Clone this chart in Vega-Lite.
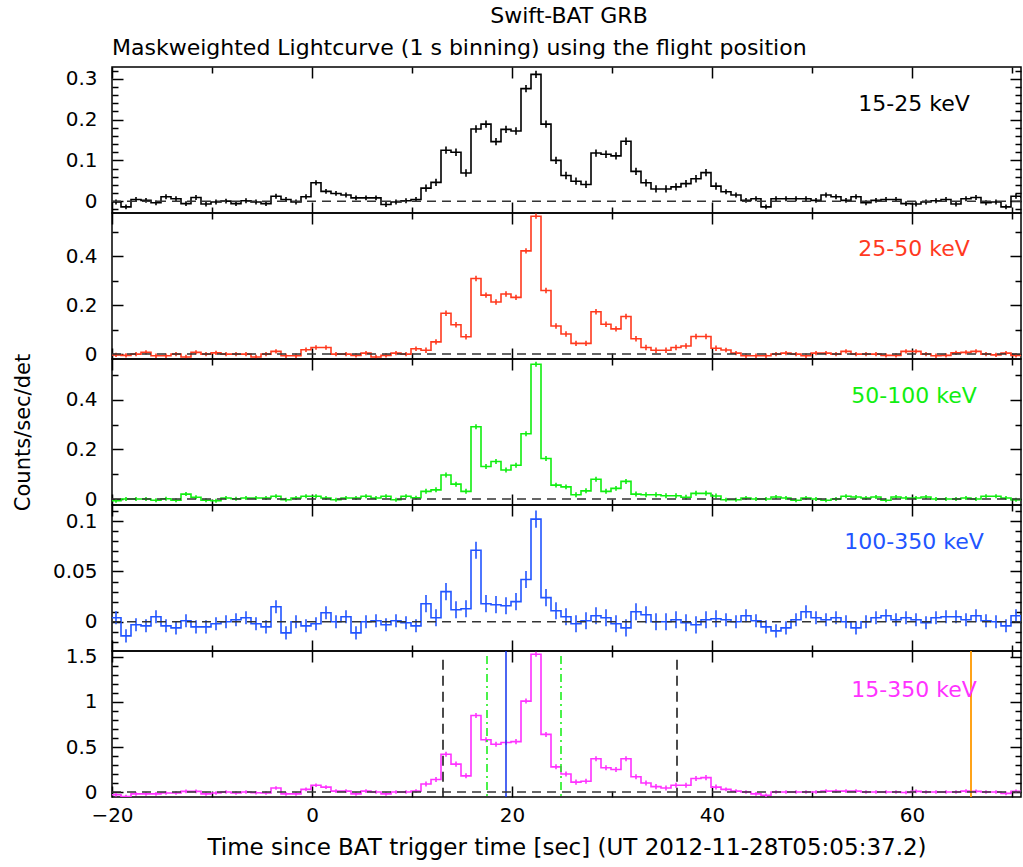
{
  "$schema": "https://vega.github.io/schema/vega-lite/v6.json",
  "padding": {"left": 11, "top": 4, "right": 1, "bottom": 4},
  "background": "white",
  "bounds": "flush",
  "title": {"text": "Swift-BAT GRB", "anchor": "middle", "dx": 52, "offset": 9, "fontSize": 22, "fontWeight": "normal", "font": "DejaVu Sans", "color": "black"},
  "spacing": 0,
  "config": {
    "view": {"stroke": "black", "strokeWidth": 1.5},
    "font": "DejaVu Sans",
    "axis": {"grid": false, "domain": false, "labelFont": "DejaVu Sans", "labelFontSize": 20, "labelColor": "black", "titleFont": "DejaVu Sans", "titleFontSize": 21, "titleFontWeight": "normal", "titleColor": "black", "tickColor": "black", "tickWidth": 1.5}
  },
  "datasets": {
    "lc": [
      {"t":-20.6,"v1":0,"v2":0,"v3":0,"v4":0.004,"v5":-0.03,"e1":0.006,"e2":0.009,"e3":0.008,"e4":0.0065,"e5":0.02},
      {"t":-19.6,"v1":-0.002,"v2":-0.003,"v3":-0.007,"v4":0.004,"v5":-0.03,"e1":0.006,"e2":0.009,"e3":0.008,"e4":0.0065,"e5":0.02},
      {"t":-18.6,"v1":-0.014,"v2":-0.005,"v3":0,"v4":-0.014,"v5":-0.05,"e1":0.006,"e2":0.009,"e3":0.008,"e4":0.0065,"e5":0.02},
      {"t":-17.6,"v1":0.004,"v2":0,"v3":0,"v4":-0.003,"v5":-0.02,"e1":0.006,"e2":0.009,"e3":0.008,"e4":0.0065,"e5":0.02},
      {"t":-16.6,"v1":0.002,"v2":0.007,"v3":0,"v4":-0.004,"v5":-0.02,"e1":0.006,"e2":0.009,"e3":0.008,"e4":0.0065,"e5":0.02},
      {"t":-15.6,"v1":-0.004,"v2":-0.007,"v3":-0.005,"v4":0.005,"v5":-0.02,"e1":0.006,"e2":0.009,"e3":0.008,"e4":0.0065,"e5":0.02},
      {"t":-14.6,"v1":0.011,"v2":-0.007,"v3":0.001,"v4":-0.004,"v5":-0.01,"e1":0.006,"e2":0.009,"e3":0.008,"e4":0.0065,"e5":0.02},
      {"t":-13.6,"v1":0.006,"v2":0,"v3":-0.005,"v4":-0.006,"v5":-0.01,"e1":0.006,"e2":0.009,"e3":0.008,"e4":0.0065,"e5":0.02},
      {"t":-12.6,"v1":-0.006,"v2":-0.012,"v3":0.02,"v4":0.001,"v5":0.007,"e1":0.006,"e2":0.009,"e3":0.008,"e4":0.0065,"e5":0.02},
      {"t":-11.6,"v1":0.009,"v2":0.007,"v3":0.007,"v4":-0.005,"v5":0.007,"e1":0.006,"e2":0.009,"e3":0.008,"e4":0.0065,"e5":0.02},
      {"t":-10.6,"v1":-0.007,"v2":0,"v3":-0.005,"v4":-0.005,"v5":-0.02,"e1":0.006,"e2":0.009,"e3":0.008,"e4":0.0065,"e5":0.02},
      {"t":-9.6,"v1":-0.002,"v2":0.005,"v3":-0.007,"v4":-0.002,"v5":-0.01,"e1":0.006,"e2":0.009,"e3":0.008,"e4":0.0065,"e5":0.02},
      {"t":-8.6,"v1":0,"v2":0,"v3":0.004,"v4":0,"v5":0,"e1":0.006,"e2":0.009,"e3":0.008,"e4":0.0065,"e5":0.02},
      {"t":-7.6,"v1":-0.006,"v2":0,"v3":0.001,"v4":0.002,"v5":-0.01,"e1":0.006,"e2":0.009,"e3":0.008,"e4":0.0065,"e5":0.02},
      {"t":-6.6,"v1":0.001,"v2":0,"v3":0.004,"v4":0.004,"v5":0,"e1":0.006,"e2":0.009,"e3":0.008,"e4":0.0065,"e5":0.02},
      {"t":-5.6,"v1":-0.002,"v2":-0.012,"v3":0.004,"v4":-0.002,"v5":-0.007,"e1":0.006,"e2":0.009,"e3":0.008,"e4":0.0065,"e5":0.02},
      {"t":-4.6,"v1":-0.006,"v2":0,"v3":0.004,"v4":-0.005,"v5":-0.01,"e1":0.006,"e2":0.009,"e3":0.008,"e4":0.0065,"e5":0.02},
      {"t":-3.6,"v1":0.012,"v2":0.011,"v3":0.011,"v4":0.015,"v5":0.045,"e1":0.006,"e2":0.009,"e3":0.008,"e4":0.0065,"e5":0.02},
      {"t":-2.6,"v1":0.004,"v2":-0.007,"v3":-0.003,"v4":-0.011,"v5":-0.02,"e1":0.006,"e2":0.009,"e3":0.008,"e4":0.0065,"e5":0.02},
      {"t":-1.6,"v1":-0.002,"v2":-0.007,"v3":0.004,"v4":0,"v5":-0.02,"e1":0.006,"e2":0.009,"e3":0.008,"e4":0.0065,"e5":0.02},
      {"t":-0.6,"v1":0.011,"v2":0.018,"v3":0.011,"v4":-0.004,"v5":0.03,"e1":0.006,"e2":0.009,"e3":0.008,"e4":0.0065,"e5":0.02},
      {"t":0.4,"v1":0.045,"v2":0.027,"v3":0.011,"v4":-0.002,"v5":0.075,"e1":0.006,"e2":0.009,"e3":0.008,"e4":0.0065,"e5":0.02},
      {"t":1.4,"v1":0.024,"v2":0.027,"v3":0.004,"v4":0.009,"v5":0.055,"e1":0.006,"e2":0.009,"e3":0.008,"e4":0.0065,"e5":0.02},
      {"t":2.4,"v1":0.019,"v2":0,"v3":-0.003,"v4":0,"v5":0.01,"e1":0.006,"e2":0.009,"e3":0.008,"e4":0.0065,"e5":0.02},
      {"t":3.4,"v1":0.015,"v2":0,"v3":0.004,"v4":0.005,"v5":0.01,"e1":0.006,"e2":0.009,"e3":0.008,"e4":0.0065,"e5":0.02},
      {"t":4.4,"v1":0.008,"v2":-0.005,"v3":0.004,"v4":-0.011,"v5":-0.02,"e1":0.006,"e2":0.009,"e3":0.008,"e4":0.0065,"e5":0.02},
      {"t":5.4,"v1":0.008,"v2":0.004,"v3":0.011,"v4":0,"v5":0.01,"e1":0.006,"e2":0.009,"e3":0.008,"e4":0.0065,"e5":0.02},
      {"t":6.4,"v1":0.008,"v2":-0.012,"v3":0.004,"v4":0.001,"v5":0,"e1":0.006,"e2":0.009,"e3":0.008,"e4":0.0065,"e5":0.02},
      {"t":7.4,"v1":-0.008,"v2":-0.005,"v3":0.011,"v4":-0.003,"v5":-0.02,"e1":0.006,"e2":0.009,"e3":0.008,"e4":0.0065,"e5":0.02},
      {"t":8.4,"v1":-0.002,"v2":0.004,"v3":-0.003,"v4":0.001,"v5":0,"e1":0.006,"e2":0.009,"e3":0.008,"e4":0.0065,"e5":0.02},
      {"t":9.4,"v1":0.001,"v2":0,"v3":0.011,"v4":-0.001,"v5":0,"e1":0.006,"e2":0.009,"e3":0.008,"e4":0.0065,"e5":0.02},
      {"t":10.4,"v1":0.004,"v2":0.022,"v3":0.005,"v4":-0.004,"v5":0.01,"e1":0.006,"e2":0.009,"e3":0.008,"e4":0.0065,"e5":0.02},
      {"t":11.4,"v1":0.032,"v2":0.016,"v3":0.031,"v4":0.018,"v5":0.09,"e1":0.009,"e2":0.011,"e3":0.01,"e4":0.0085,"e5":0.028},
      {"t":12.4,"v1":0.046,"v2":0.05,"v3":0.037,"v4":0.004,"v5":0.14,"e1":0.009,"e2":0.011,"e3":0.01,"e4":0.0085,"e5":0.028},
      {"t":13.4,"v1":0.125,"v2":0.167,"v3":0.097,"v4":0.03,"v5":0.42,"e1":0.009,"e2":0.011,"e3":0.01,"e4":0.0085,"e5":0.028},
      {"t":14.4,"v1":0.12,"v2":0.12,"v3":0.06,"v4":0.012,"v5":0.31,"e1":0.009,"e2":0.011,"e3":0.01,"e4":0.0085,"e5":0.028},
      {"t":15.4,"v1":0.069,"v2":0.071,"v3":0.031,"v4":0.013,"v5":0.18,"e1":0.009,"e2":0.011,"e3":0.01,"e4":0.0085,"e5":0.028},
      {"t":16.4,"v1":0.177,"v2":0.309,"v3":0.291,"v4":0.071,"v5":0.85,"e1":0.009,"e2":0.011,"e3":0.01,"e4":0.0085,"e5":0.028},
      {"t":17.4,"v1":0.189,"v2":0.241,"v3":0.131,"v4":0.018,"v5":0.58,"e1":0.009,"e2":0.011,"e3":0.01,"e4":0.0085,"e5":0.028},
      {"t":18.4,"v1":0.146,"v2":0.213,"v3":0.151,"v4":0.017,"v5":0.53,"e1":0.009,"e2":0.011,"e3":0.01,"e4":0.0085,"e5":0.028},
      {"t":19.4,"v1":0.176,"v2":0.246,"v3":0.117,"v4":0.016,"v5":0.55,"e1":0.009,"e2":0.011,"e3":0.01,"e4":0.0085,"e5":0.028},
      {"t":20.4,"v1":0.172,"v2":0.232,"v3":0.136,"v4":0.02,"v5":0.56,"e1":0.009,"e2":0.011,"e3":0.01,"e4":0.0085,"e5":0.028},
      {"t":21.4,"v1":0.276,"v2":0.422,"v3":0.263,"v4":0.042,"v5":1.01,"e1":0.009,"e2":0.011,"e3":0.01,"e4":0.0085,"e5":0.028},
      {"t":22.4,"v1":0.311,"v2":0.564,"v3":0.543,"v4":0.102,"v5":1.53,"e1":0.009,"e2":0.011,"e3":0.01,"e4":0.0085,"e5":0.028},
      {"t":23.4,"v1":0.189,"v2":0.26,"v3":0.163,"v4":0.024,"v5":0.64,"e1":0.009,"e2":0.011,"e3":0.01,"e4":0.0085,"e5":0.028},
      {"t":24.4,"v1":0.1,"v2":0.115,"v3":0.056,"v4":0.011,"v5":0.28,"e1":0.009,"e2":0.011,"e3":0.01,"e4":0.0085,"e5":0.028},
      {"t":25.4,"v1":0.063,"v2":0.082,"v3":0.049,"v4":0.005,"v5":0.2,"e1":0.009,"e2":0.011,"e3":0.01,"e4":0.0085,"e5":0.028},
      {"t":26.4,"v1":0.049,"v2":0.044,"v3":0.017,"v4":-0.002,"v5":0.11,"e1":0.009,"e2":0.011,"e3":0.01,"e4":0.0085,"e5":0.028},
      {"t":27.4,"v1":0.041,"v2":0.044,"v3":0.033,"v4":0.001,"v5":0.12,"e1":0.009,"e2":0.011,"e3":0.01,"e4":0.0085,"e5":0.028},
      {"t":28.4,"v1":0.118,"v2":0.173,"v3":0.08,"v4":0.006,"v5":0.37,"e1":0.009,"e2":0.011,"e3":0.01,"e4":0.0085,"e5":0.028},
      {"t":29.4,"v1":0.115,"v2":0.122,"v3":0.031,"v4":0.004,"v5":0.27,"e1":0.009,"e2":0.011,"e3":0.01,"e4":0.0085,"e5":0.028},
      {"t":30.4,"v1":0.111,"v2":0.103,"v3":0.043,"v4":-0.002,"v5":0.25,"e1":0.009,"e2":0.011,"e3":0.01,"e4":0.0085,"e5":0.028},
      {"t":31.4,"v1":0.147,"v2":0.154,"v3":0.071,"v4":-0.006,"v5":0.37,"e1":0.009,"e2":0.011,"e3":0.01,"e4":0.0085,"e5":0.028},
      {"t":32.4,"v1":0.073,"v2":0.063,"v3":0.02,"v4":0.01,"v5":0.17,"e1":0.009,"e2":0.011,"e3":0.01,"e4":0.0085,"e5":0.028},
      {"t":33.4,"v1":0.045,"v2":0.027,"v3":0.017,"v4":0.007,"v5":0.1,"e1":0.009,"e2":0.011,"e3":0.01,"e4":0.0085,"e5":0.028},
      {"t":34.4,"v1":0.03,"v2":0.016,"v3":0.017,"v4":0,"v5":0.06,"e1":0.009,"e2":0.011,"e3":0.01,"e4":0.0085,"e5":0.028},
      {"t":35.4,"v1":0.03,"v2":0.016,"v3":0.013,"v4":0,"v5":0.045,"e1":0.009,"e2":0.011,"e3":0.01,"e4":0.0085,"e5":0.028},
      {"t":36.4,"v1":0.035,"v2":0.027,"v3":0.013,"v4":0.002,"v5":0.075,"e1":0.009,"e2":0.011,"e3":0.01,"e4":0.0085,"e5":0.028},
      {"t":37.4,"v1":0.043,"v2":0.033,"v3":0.007,"v4":-0.001,"v5":0.075,"e1":0.009,"e2":0.011,"e3":0.01,"e4":0.0085,"e5":0.028},
      {"t":38.4,"v1":0.055,"v2":0.072,"v3":0.023,"v4":-0.003,"v5":0.15,"e1":0.009,"e2":0.011,"e3":0.01,"e4":0.0085,"e5":0.028},
      {"t":39.4,"v1":0.07,"v2":0.072,"v3":0.023,"v4":0.002,"v5":0.16,"e1":0.009,"e2":0.011,"e3":0.01,"e4":0.0085,"e5":0.028},
      {"t":40.4,"v1":0.037,"v2":0.024,"v3":0.012,"v4":0.003,"v5":0.055,"e1":0.009,"e2":0.011,"e3":0.01,"e4":0.0085,"e5":0.028},
      {"t":41.4,"v1":0.023,"v2":0.017,"v3":-0.003,"v4":0.002,"v5":0.03,"e1":0.006,"e2":0.009,"e3":0.008,"e4":0.0065,"e5":0.02},
      {"t":42.4,"v1":0.015,"v2":0.004,"v3":-0.003,"v4":0,"v5":0.01,"e1":0.006,"e2":0.009,"e3":0.008,"e4":0.0065,"e5":0.02},
      {"t":43.4,"v1":0.002,"v2":-0.007,"v3":0.004,"v4":0.006,"v5":0,"e1":0.006,"e2":0.009,"e3":0.008,"e4":0.0065,"e5":0.02},
      {"t":44.4,"v1":0.006,"v2":-0.007,"v3":0,"v4":0.001,"v5":-0.02,"e1":0.006,"e2":0.009,"e3":0.008,"e4":0.0065,"e5":0.02},
      {"t":45.4,"v1":-0.014,"v2":-0.007,"v3":0,"v4":-0.005,"v5":-0.035,"e1":0.006,"e2":0.009,"e3":0.008,"e4":0.0065,"e5":0.02},
      {"t":46.4,"v1":0.006,"v2":0,"v3":0.008,"v4":-0.009,"v5":0,"e1":0.006,"e2":0.009,"e3":0.008,"e4":0.0065,"e5":0.02},
      {"t":47.4,"v1":0.006,"v2":0.004,"v3":0.004,"v4":-0.006,"v5":0,"e1":0.006,"e2":0.009,"e3":0.008,"e4":0.0065,"e5":0.02},
      {"t":48.4,"v1":0.006,"v2":0,"v3":-0.005,"v4":0.002,"v5":0,"e1":0.006,"e2":0.009,"e3":0.008,"e4":0.0065,"e5":0.02},
      {"t":49.4,"v1":0.006,"v2":-0.007,"v3":0.004,"v4":0.01,"v5":0,"e1":0.006,"e2":0.009,"e3":0.008,"e4":0.0065,"e5":0.02},
      {"t":50.4,"v1":0.002,"v2":0.004,"v3":0,"v4":0.004,"v5":0,"e1":0.006,"e2":0.009,"e3":0.008,"e4":0.0065,"e5":0.02},
      {"t":51.4,"v1":0.015,"v2":0.004,"v3":-0.005,"v4":0.002,"v5":0.01,"e1":0.006,"e2":0.009,"e3":0.008,"e4":0.0065,"e5":0.02},
      {"t":52.4,"v1":0.011,"v2":0,"v3":0,"v4":0.004,"v5":0.01,"e1":0.006,"e2":0.009,"e3":0.008,"e4":0.0065,"e5":0.02},
      {"t":53.4,"v1":0.002,"v2":0.011,"v3":0.011,"v4":0,"v5":0.01,"e1":0.006,"e2":0.009,"e3":0.008,"e4":0.0065,"e5":0.02},
      {"t":54.4,"v1":0.011,"v2":0,"v3":0.008,"v4":-0.006,"v5":0.01,"e1":0.006,"e2":0.009,"e3":0.008,"e4":0.0065,"e5":0.02},
      {"t":55.4,"v1":-0.004,"v2":0,"v3":0.004,"v4":0,"v5":0,"e1":0.006,"e2":0.009,"e3":0.008,"e4":0.0065,"e5":0.02},
      {"t":56.4,"v1":0.002,"v2":0,"v3":0.008,"v4":0.004,"v5":0,"e1":0.006,"e2":0.009,"e3":0.008,"e4":0.0065,"e5":0.02},
      {"t":57.4,"v1":0.004,"v2":-0.005,"v3":-0.005,"v4":0.006,"v5":0,"e1":0.006,"e2":0.009,"e3":0.008,"e4":0.0065,"e5":0.02},
      {"t":58.4,"v1":0.004,"v2":-0.005,"v3":0.008,"v4":0.002,"v5":0,"e1":0.006,"e2":0.009,"e3":0.008,"e4":0.0065,"e5":0.02},
      {"t":59.4,"v1":-0.006,"v2":0.011,"v3":0.004,"v4":0.004,"v5":-0.005,"e1":0.006,"e2":0.009,"e3":0.008,"e4":0.0065,"e5":0.02},
      {"t":60.4,"v1":-0.007,"v2":0.011,"v3":0.004,"v4":0.002,"v5":0.007,"e1":0.006,"e2":0.009,"e3":0.008,"e4":0.0065,"e5":0.02},
      {"t":61.4,"v1":-0.002,"v2":0,"v3":0.008,"v4":-0.001,"v5":0,"e1":0.006,"e2":0.009,"e3":0.008,"e4":0.0065,"e5":0.02},
      {"t":62.4,"v1":0.001,"v2":-0.007,"v3":0,"v4":0.004,"v5":0,"e1":0.006,"e2":0.009,"e3":0.008,"e4":0.0065,"e5":0.02},
      {"t":63.4,"v1":0.004,"v2":-0.005,"v3":0,"v4":0.005,"v5":0,"e1":0.006,"e2":0.009,"e3":0.008,"e4":0.0065,"e5":0.02},
      {"t":64.4,"v1":-0.007,"v2":0.005,"v3":0,"v4":0.005,"v5":0,"e1":0.006,"e2":0.009,"e3":0.008,"e4":0.0065,"e5":0.02},
      {"t":65.4,"v1":0.006,"v2":0.007,"v3":0.004,"v4":0.002,"v5":0.01,"e1":0.006,"e2":0.009,"e3":0.008,"e4":0.0065,"e5":0.02},
      {"t":66.4,"v1":0.009,"v2":0.011,"v3":0,"v4":0.006,"v5":0.008,"e1":0.006,"e2":0.009,"e3":0.008,"e4":0.0065,"e5":0.02},
      {"t":67.4,"v1":-0.004,"v2":0,"v3":0.011,"v4":0.001,"v5":0,"e1":0.006,"e2":0.009,"e3":0.008,"e4":0.0065,"e5":0.02},
      {"t":68.4,"v1":-0.002,"v2":-0.003,"v3":0.011,"v4":0,"v5":0,"e1":0.006,"e2":0.009,"e3":0.008,"e4":0.0065,"e5":0.02},
      {"t":69.4,"v1":-0.014,"v2":0.004,"v3":0.004,"v4":-0.004,"v5":-0.015,"e1":0.006,"e2":0.009,"e3":0.008,"e4":0.0065,"e5":0.02},
      {"t":70.4,"v1":0.012,"v2":-0.005,"v3":-0.003,"v4":0.006,"v5":0.007,"e1":0.006,"e2":0.009,"e3":0.008,"e4":0.0065,"e5":0.02},
      {"t":71.4,"v1":0.01,"v2":0,"v3":0,"v4":0,"v5":0,"e1":0.006,"e2":0.009,"e3":0.008,"e4":0.0065,"e5":0.02}
    ]
  },
  "vconcat": [
    {
      "width": 909, "height": 146,
      "title": {"text": "Maskweighted Lightcurve (1 s binning) using the flight position", "anchor": "start", "frame": "group", "offset": 6, "fontSize": 22, "fontWeight": "normal", "font": "DejaVu Sans", "color": "black"},
      "data": {"name": "lc"},
      "resolve": {"axis": {"x": "independent", "y": "independent"}},
      "layer": [
        {"mark": {"type": "line", "interpolate": "step", "clip": true, "color": "#000000", "strokeWidth": 1.6},
         "encoding": {
           "x": {"field": "t", "type": "quantitative", "scale": {"domain": [-20, 70.9], "nice": false, "zero": false}, "axis": null},
           "y": {"field": "v1", "type": "quantitative", "scale": {"domain": [-0.029, 0.329], "nice": false, "zero": false}, "axis": {"orient": "left", "values": [0, 0.1, 0.2, 0.3], "ticks": false, "labelPadding": 15, "format": "~r", "title": null}}
         }},
        {"mark": {"type": "errorbar", "color": "#000000", "thickness": 1.6, "clip": true},
         "encoding": {"x": {"field": "t", "type": "quantitative", "axis": null}, "y": {"field": "v1", "type": "quantitative", "axis": null}, "yError": {"field": "e1"}}},
        {"data": {"values": [{}]},
         "mark": {"type": "rule", "color": "#333333", "strokeDash": [9, 6], "strokeWidth": 1.5},
         "encoding": {
           "x": {"datum": -20, "type": "quantitative", "axis": {"orient": "top", "values": [-20, -10, 0, 10, 20, 30, 40, 50, 60, 70], "labels": false, "title": null, "tickSize": {"condition": {"test": "abs(datum.value % 20) < 0.001", "value": -11}, "value": -6}}},
           "x2": {"datum": 70.9},
           "y": {"datum": 0, "type": "quantitative", "axis": {"orient": "right", "values": [-0.02, 0, 0.02, 0.04, 0.06, 0.08, 0.1, 0.12, 0.14, 0.16, 0.18, 0.2, 0.22, 0.24, 0.26, 0.28, 0.3, 0.32], "labels": false, "title": null, "tickSize": {"condition": {"test": "abs(datum.value*10 - round(datum.value*10)) < 0.001", "value": -11}, "value": -6}}}
         }},
        {"data": {"values": [{}]},
         "mark": {"type": "text", "align": "center", "baseline": "middle", "fontSize": 22, "font": "DejaVu Sans", "color": "#000000"},
         "encoding": {
           "x": {"datum": 60.2, "type": "quantitative", "axis": {"orient": "bottom", "values": [-20, -10, 0, 10, 20, 30, 40, 50, 60, 70], "labels": false, "title": null, "tickSize": {"condition": {"test": "abs(datum.value % 20) < 0.001", "value": -11}, "value": -6}}},
           "y": {"datum": 0.239, "type": "quantitative", "axis": {"orient": "left", "values": [-0.02, 0, 0.02, 0.04, 0.06, 0.08, 0.1, 0.12, 0.14, 0.16, 0.18, 0.2, 0.22, 0.24, 0.26, 0.28, 0.3, 0.32], "labels": false, "title": null, "tickSize": {"condition": {"test": "abs(datum.value*10 - round(datum.value*10)) < 0.001", "value": -11}, "value": -6}}},
           "text": {"value": "15-25 keV"}
         }}
      ]
    },
    {
      "width": 909, "height": 146,
      "data": {"name": "lc"},
      "resolve": {"axis": {"x": "independent", "y": "independent"}},
      "layer": [
        {"mark": {"type": "line", "interpolate": "step", "clip": true, "color": "#ff3a1f", "strokeWidth": 1.6},
         "encoding": {
           "x": {"field": "t", "type": "quantitative", "scale": {"domain": [-20, 70.9], "nice": false, "zero": false}, "axis": null},
           "y": {"field": "v2", "type": "quantitative", "scale": {"domain": [-0.02, 0.577], "nice": false, "zero": false}, "axis": {"orient": "left", "values": [0, 0.2, 0.4], "ticks": false, "labelPadding": 15, "format": "~r", "title": null}}
         }},
        {"mark": {"type": "errorbar", "color": "#ff3a1f", "thickness": 1.6, "clip": true},
         "encoding": {"x": {"field": "t", "type": "quantitative", "axis": null}, "y": {"field": "v2", "type": "quantitative", "axis": null}, "yError": {"field": "e2"}}},
        {"data": {"values": [{}]},
         "mark": {"type": "rule", "color": "#333333", "strokeDash": [9, 6], "strokeWidth": 1.5},
         "encoding": {
           "x": {"datum": -20, "type": "quantitative", "axis": {"orient": "top", "values": [-20, -10, 0, 10, 20, 30, 40, 50, 60, 70], "labels": false, "title": null, "tickSize": {"condition": {"test": "abs(datum.value % 20) < 0.001", "value": -11}, "value": -6}}},
           "x2": {"datum": 70.9},
           "y": {"datum": 0, "type": "quantitative", "axis": {"orient": "right", "values": [0, 0.1, 0.2, 0.3, 0.4, 0.5], "labels": false, "title": null, "tickSize": {"condition": {"test": "abs(datum.value*5 - round(datum.value*5)) < 0.001", "value": -11}, "value": -6}}}
         }},
        {"data": {"values": [{}]},
         "mark": {"type": "text", "align": "center", "baseline": "middle", "fontSize": 22, "font": "DejaVu Sans", "color": "#ff3a1f"},
         "encoding": {
           "x": {"datum": 60.2, "type": "quantitative", "axis": {"orient": "bottom", "values": [-20, -10, 0, 10, 20, 30, 40, 50, 60, 70], "labels": false, "title": null, "tickSize": {"condition": {"test": "abs(datum.value % 20) < 0.001", "value": -11}, "value": -6}}},
           "y": {"datum": 0.429, "type": "quantitative", "axis": {"orient": "left", "values": [0, 0.1, 0.2, 0.3, 0.4, 0.5], "labels": false, "title": null, "tickSize": {"condition": {"test": "abs(datum.value*5 - round(datum.value*5)) < 0.001", "value": -11}, "value": -6}}},
           "text": {"value": "25-50 keV"}
         }}
      ]
    },
    {
      "width": 909, "height": 146,
      "data": {"name": "lc"},
      "resolve": {"axis": {"x": "independent", "y": "independent"}},
      "layer": [
        {"mark": {"type": "line", "interpolate": "step", "clip": true, "color": "#11ee11", "strokeWidth": 1.6},
         "encoding": {
           "x": {"field": "t", "type": "quantitative", "scale": {"domain": [-20, 70.9], "nice": false, "zero": false}, "axis": null},
           "y": {"field": "v3", "type": "quantitative", "scale": {"domain": [-0.024, 0.564], "nice": false, "zero": false}, "axis": {"orient": "left", "values": [0, 0.2, 0.4], "ticks": false, "labelPadding": 15, "format": "~r", "title": "Counts/sec/det", "titlePadding": 32}}
         }},
        {"mark": {"type": "errorbar", "color": "#11ee11", "thickness": 1.6, "clip": true},
         "encoding": {"x": {"field": "t", "type": "quantitative", "axis": null}, "y": {"field": "v3", "type": "quantitative", "axis": null}, "yError": {"field": "e3"}}},
        {"data": {"values": [{}]},
         "mark": {"type": "rule", "color": "#333333", "strokeDash": [9, 6], "strokeWidth": 1.5},
         "encoding": {
           "x": {"datum": -20, "type": "quantitative", "axis": {"orient": "top", "values": [-20, -10, 0, 10, 20, 30, 40, 50, 60, 70], "labels": false, "title": null, "tickSize": {"condition": {"test": "abs(datum.value % 20) < 0.001", "value": -11}, "value": -6}}},
           "x2": {"datum": 70.9},
           "y": {"datum": 0, "type": "quantitative", "axis": {"orient": "right", "values": [0, 0.1, 0.2, 0.3, 0.4, 0.5], "labels": false, "title": null, "tickSize": {"condition": {"test": "abs(datum.value*5 - round(datum.value*5)) < 0.001", "value": -11}, "value": -6}}}
         }},
        {"data": {"values": [{}]},
         "mark": {"type": "text", "align": "center", "baseline": "middle", "fontSize": 22, "font": "DejaVu Sans", "color": "#11ee11"},
         "encoding": {
           "x": {"datum": 60.2, "type": "quantitative", "axis": {"orient": "bottom", "values": [-20, -10, 0, 10, 20, 30, 40, 50, 60, 70], "labels": false, "title": null, "tickSize": {"condition": {"test": "abs(datum.value % 20) < 0.001", "value": -11}, "value": -6}}},
           "y": {"datum": 0.413, "type": "quantitative", "axis": {"orient": "left", "values": [0, 0.1, 0.2, 0.3, 0.4, 0.5], "labels": false, "title": null, "tickSize": {"condition": {"test": "abs(datum.value*5 - round(datum.value*5)) < 0.001", "value": -11}, "value": -6}}},
           "text": {"value": "50-100 keV"}
         }}
      ]
    },
    {
      "width": 909, "height": 146,
      "data": {"name": "lc"},
      "resolve": {"axis": {"x": "independent", "y": "independent"}},
      "layer": [
        {"mark": {"type": "line", "interpolate": "step", "clip": true, "color": "#2255ff", "strokeWidth": 1.6},
         "encoding": {
           "x": {"field": "t", "type": "quantitative", "scale": {"domain": [-20, 70.9], "nice": false, "zero": false}, "axis": null},
           "y": {"field": "v4", "type": "quantitative", "scale": {"domain": [-0.029, 0.116], "nice": false, "zero": false}, "axis": {"orient": "left", "values": [0, 0.05, 0.1], "ticks": false, "labelPadding": 15, "format": "~r", "title": null}}
         }},
        {"mark": {"type": "errorbar", "color": "#2255ff", "thickness": 1.6, "clip": true},
         "encoding": {"x": {"field": "t", "type": "quantitative", "axis": null}, "y": {"field": "v4", "type": "quantitative", "axis": null}, "yError": {"field": "e4"}}},
        {"data": {"values": [{}]},
         "mark": {"type": "rule", "color": "#333333", "strokeDash": [9, 6], "strokeWidth": 1.5},
         "encoding": {
           "x": {"datum": -20, "type": "quantitative", "axis": {"orient": "top", "values": [-20, -10, 0, 10, 20, 30, 40, 50, 60, 70], "labels": false, "title": null, "tickSize": {"condition": {"test": "abs(datum.value % 20) < 0.001", "value": -11}, "value": -6}}},
           "x2": {"datum": 70.9},
           "y": {"datum": 0, "type": "quantitative", "axis": {"orient": "right", "values": [-0.02, -0.01, 0, 0.01, 0.02, 0.03, 0.04, 0.05, 0.06, 0.07, 0.08, 0.09, 0.1, 0.11], "labels": false, "title": null, "tickSize": {"condition": {"test": "abs(datum.value*20 - round(datum.value*20)) < 0.001", "value": -11}, "value": -6}}}
         }},
        {"data": {"values": [{}]},
         "mark": {"type": "text", "align": "center", "baseline": "middle", "fontSize": 22, "font": "DejaVu Sans", "color": "#2255ff"},
         "encoding": {
           "x": {"datum": 60.2, "type": "quantitative", "axis": {"orient": "bottom", "values": [-20, -10, 0, 10, 20, 30, 40, 50, 60, 70], "labels": false, "title": null, "tickSize": {"condition": {"test": "abs(datum.value % 20) < 0.001", "value": -11}, "value": -6}}},
           "y": {"datum": 0.079, "type": "quantitative", "axis": {"orient": "left", "values": [-0.02, -0.01, 0, 0.01, 0.02, 0.03, 0.04, 0.05, 0.06, 0.07, 0.08, 0.09, 0.1, 0.11], "labels": false, "title": null, "tickSize": {"condition": {"test": "abs(datum.value*20 - round(datum.value*20)) < 0.001", "value": -11}, "value": -6}}},
           "text": {"value": "100-350 keV"}
         }}
      ]
    },
    {
      "width": 909, "height": 146,
      "data": {"name": "lc"},
      "resolve": {"axis": {"x": "independent", "y": "independent"}},
      "layer": [
        {"mark": {"type": "line", "interpolate": "step", "clip": true, "color": "#ff33ff", "strokeWidth": 1.6},
         "encoding": {
           "x": {"field": "t", "type": "quantitative", "scale": {"domain": [-20, 70.9], "nice": false, "zero": false}, "axis": {"orient": "bottom", "values": [-20, 0, 20, 40, 60], "ticks": false, "labelPadding": 8, "labelFlush": false, "format": "~r", "title": "Time since BAT trigger time [sec] (UT 2012-11-28T05:05:37.2)", "titleFontSize": 23, "titlePadding": 11}},
           "y": {"field": "v5", "type": "quantitative", "scale": {"domain": [-0.055, 1.566], "nice": false, "zero": false}, "axis": {"orient": "left", "values": [0, 0.5, 1, 1.5], "ticks": false, "labelPadding": 15, "format": "~r", "title": null}}
         }},
        {"mark": {"type": "errorbar", "color": "#ff33ff", "thickness": 1.6, "clip": true},
         "encoding": {"x": {"field": "t", "type": "quantitative", "axis": null}, "y": {"field": "v5", "type": "quantitative", "axis": null}, "yError": {"field": "e5"}}},
        {"data": {"values": [{"t": 13.1}, {"t": 36.5}]},
         "mark": {"type": "rule", "color": "#111111", "strokeDash": [10, 6], "strokeWidth": 1.5},
         "encoding": {"x": {"field": "t", "type": "quantitative", "axis": null}, "y": {"datum": 1.47, "type": "quantitative", "axis": null}, "y2": {"datum": -0.055}}},
        {"data": {"values": [{"t": 17.5}, {"t": 24.9}]},
         "mark": {"type": "rule", "color": "#11ee11", "strokeDash": [8, 4, 2, 4], "strokeWidth": 1.5},
         "encoding": {"x": {"field": "t", "type": "quantitative", "axis": null}, "y": {"datum": 1.51, "type": "quantitative", "axis": null}, "y2": {"datum": -0.055}}},
        {"data": {"values": [{"t": 19.4}]},
         "mark": {"type": "rule", "color": "#1133ee", "strokeWidth": 1.5},
         "encoding": {"x": {"field": "t", "type": "quantitative", "axis": null}}},
        {"data": {"values": [{"t": 65.9}]},
         "mark": {"type": "rule", "color": "#ff9900", "strokeWidth": 1.8},
         "encoding": {"x": {"field": "t", "type": "quantitative", "axis": null}}},
        {"data": {"values": [{}]},
         "mark": {"type": "rule", "color": "#333333", "strokeDash": [9, 6], "strokeWidth": 1.5},
         "encoding": {
           "x": {"datum": -20, "type": "quantitative", "axis": {"orient": "top", "values": [-20, -10, 0, 10, 20, 30, 40, 50, 60, 70], "labels": false, "title": null, "tickSize": {"condition": {"test": "abs(datum.value % 20) < 0.001", "value": -11}, "value": -6}}},
           "x2": {"datum": 70.9},
           "y": {"datum": 0, "type": "quantitative", "axis": {"orient": "right", "values": [0, 0.1, 0.2, 0.3, 0.4, 0.5, 0.6, 0.7, 0.8, 0.9, 1, 1.1, 1.2, 1.3, 1.4, 1.5], "labels": false, "title": null, "tickSize": {"condition": {"test": "abs(datum.value*2 - round(datum.value*2)) < 0.001", "value": -11}, "value": -6}}}
         }},
        {"data": {"values": [{}]},
         "mark": {"type": "text", "align": "center", "baseline": "middle", "fontSize": 22, "font": "DejaVu Sans", "color": "#ff33ff"},
         "encoding": {
           "x": {"datum": 60.2, "type": "quantitative", "axis": {"orient": "bottom", "values": [-20, -10, 0, 10, 20, 30, 40, 50, 60, 70], "labels": false, "title": null, "tickSize": {"condition": {"test": "abs(datum.value % 20) < 0.001", "value": -11}, "value": -6}}},
           "y": {"datum": 1.136, "type": "quantitative", "axis": {"orient": "left", "values": [0, 0.1, 0.2, 0.3, 0.4, 0.5, 0.6, 0.7, 0.8, 0.9, 1, 1.1, 1.2, 1.3, 1.4, 1.5], "labels": false, "title": null, "tickSize": {"condition": {"test": "abs(datum.value*2 - round(datum.value*2)) < 0.001", "value": -11}, "value": -6}}},
           "text": {"value": "15-350 keV"}
         }}
      ]
    }
  ]
}
